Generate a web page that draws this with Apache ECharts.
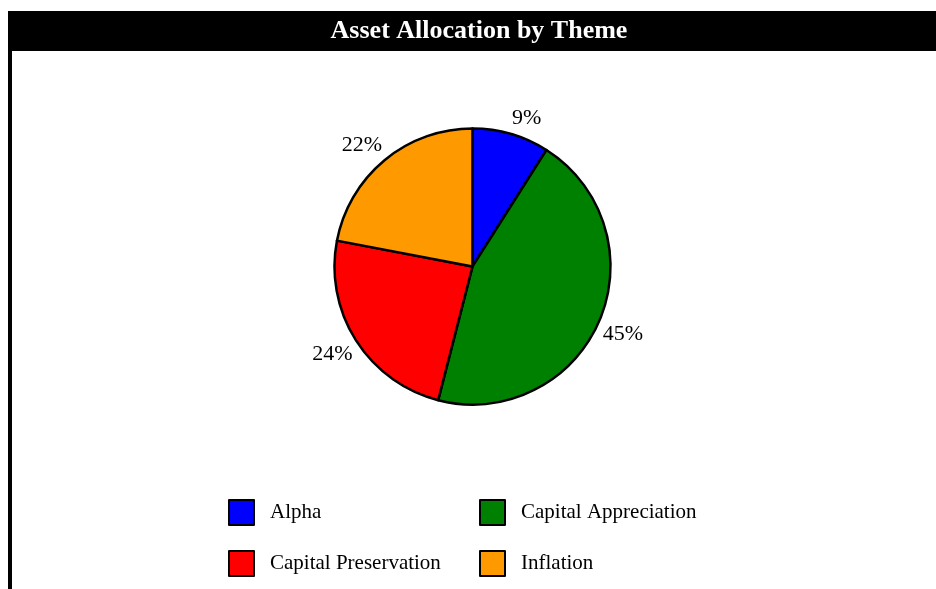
<!DOCTYPE html>
<html>
<head>
<meta charset="utf-8">
<title>Asset Allocation by Theme</title>
<script src="https://cdn.jsdelivr.net/npm/echarts@6/dist/echarts.min.js"></script>
<style>
  html, body { margin: 0; padding: 0; background: #ffffff; }
  #chart { width: 936px; height: 589px; }
</style>
</head>
<body>
<div id="chart"></div>
<script>
// Allocation shares (percent) per investment theme, clockwise from 12 o'clock
const themes = ['Alpha', 'Capital Appreciation', 'Capital Preservation', 'Inflation'];
const shares = [9, 45, 24, 22];
const themeColors = ['#0000ff', '#008000', '#ff0000', '#ff9900'];

// Legend columns
const legendLeftColumn = ['Alpha', 'Capital Preservation'];
const legendRightColumn = ['Capital Appreciation', 'Inflation'];

const SERIF = '"Liberation Serif", "DejaVu Serif", "Times New Roman", serif';
const CENTER = [472.5, 266.5];

const chart = echarts.init(document.getElementById('chart'), null, { renderer: 'canvas' });

const legendBase = {
  orient: 'vertical',
  top: 499,
  padding: 0,
  itemWidth: 25,
  itemHeight: 25,
  itemGap: 24,
  icon: 'rect',
  selectedMode: false,
  itemStyle: { borderColor: '#000000', borderWidth: 2 },
  textStyle: {
    fontFamily: SERIF,
    fontSize: 21,
    color: '#000000',
    padding: [0, 0, 0, 11]
  }
};

chart.setOption({
  animation: false,
  backgroundColor: '#ffffff',
  color: themeColors,
  title: {
    text: 'Asset Allocation by Theme',
    left: 479,
    textAlign: 'center',
    top: 18,
    padding: 0,
    textStyle: {
      fontFamily: SERIF,
      fontSize: 26,
      fontWeight: 'bold',
      color: '#ffffff'
    }
  },
  graphic: [
    // header band
    { type: 'rect', z: -1, shape: { x: 8, y: 11, width: 940, height: 40 }, style: { fill: '#000000' }, silent: true },
    // left frame edge
    { type: 'rect', z: -1, shape: { x: 8, y: 11, width: 4, height: 600 }, style: { fill: '#000000' }, silent: true }
  ],
  legend: [
    Object.assign({}, legendBase, { left: 228, data: legendLeftColumn }),
    Object.assign({}, legendBase, { left: 479, data: legendRightColumn })
  ],
  series: [{
    type: 'pie',
    center: CENTER,
    radius: 138,
    startAngle: 90,
    clockwise: true,
    avoidLabelOverlap: false,
    itemStyle: { borderColor: '#000000', borderWidth: 2.5 },
    emphasis: { disabled: true },
    label: {
      show: true,
      position: 'outside',
      distanceToLabelLine: 0,
      formatter: '{c}%',
      fontFamily: SERIF,
      fontSize: 22,
      lineHeight: 23,
      color: '#000000'
    },
    labelLine: { show: false, length: 4, length2: 0 },
    // labels sit beside the rim: above the centre they rest on the anchor, below they hang from it
    labelLayout: function (p) {
      const midY = p.labelRect.y + p.labelRect.height / 2;
      return { verticalAlign: midY < CENTER[1] ? 'bottom' : 'top' };
    },
    data: themes.map((name, i) => ({ name: name, value: shares[i] }))
  }]
});
</script>
</body>
</html>
